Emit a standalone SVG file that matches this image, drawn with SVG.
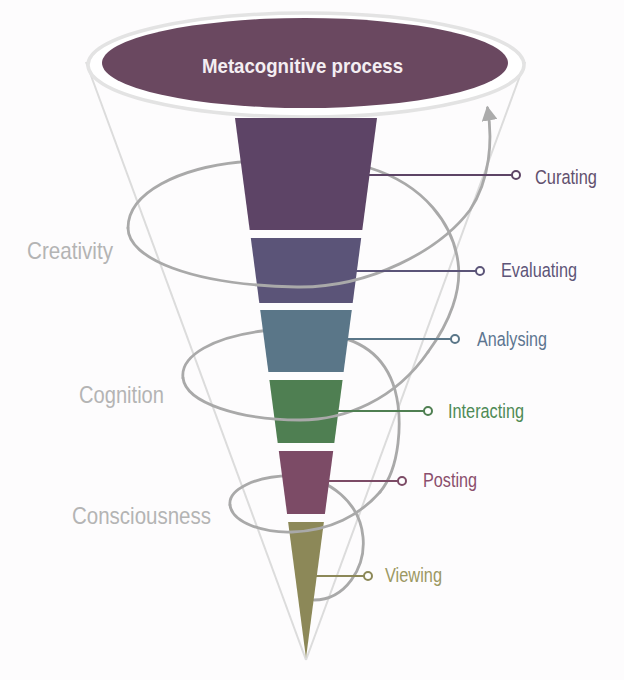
<svg xmlns="http://www.w3.org/2000/svg" width="624" height="680" viewBox="0 0 624 680">
  <defs>
    <marker id="arrow" markerUnits="userSpaceOnUse" markerWidth="16" markerHeight="16" viewBox="0 0 14 14" refX="11" refY="7" orient="auto">
      <path d="M0,0 L13,7 L0,14 z" fill="#ababab"/>
    </marker>
    <style>
      .cone { fill: none; stroke: #dcdcdc; stroke-width: 2; }
      .spiral { fill: none; stroke: #a9a9a9; stroke-width: 2.8; stroke-linecap: round; }
      .lead { fill: none; stroke-width: 2; }
      .dot { fill: #ffffff; stroke-width: 2; }
      .lbl { font-family: "Liberation Sans", Arial, sans-serif; font-size: 20.5px; }
      .side { font-family: "Liberation Sans", Arial, sans-serif; font-size: 24px; fill: #b4b4b4; }
    </style>
  </defs>
  <rect x="0" y="0" width="624" height="680" fill="#fdfcfd"/>

  <!-- cone -->
  <g id="cone">
    <line class="cone" x1="86" y1="62" x2="306" y2="660"/>
    <line class="cone" x1="525" y1="62" x2="306" y2="660"/>
  </g>

  <g id="metacognitive-process">
    <ellipse cx="306" cy="65" rx="218" ry="52" fill="#ffffff" stroke="#e3e3e3" stroke-width="3.5"/>
    <ellipse cx="305" cy="63" rx="203" ry="45" fill="#6a4860"/>
    <text x="302.5" y="72.5" text-anchor="middle" font-family="'Liberation Sans', Arial, sans-serif" font-size="21" font-weight="bold" fill="#f4eef2" textLength="201" lengthAdjust="spacingAndGlyphs">Metacognitive process</text>
  </g>

  <!-- spiral back parts -->
  <g id="spiral-back">
    <path class="spiral" d="M 314,600 C 345,600 366,568 363,537 C 360,503 330,478 295,476 C 255,475 228,490 230,505"/>
    <path class="spiral" d="M 380,492 C 400,468 403,420 395,390 C 385,355 360,338 320,333 C 300,330 280,329 262,331 C 215,337 180,355 183,378"/>
    <path class="spiral" d="M 428,352 C 450,322 462,290 458,262 C 453,225 425,185 370,168 C 330,158 280,156 240,162 C 180,168 128,192 128,228"/>
  </g>

  <g id="curating">
    <polygon points="235,118 377,118 362.3,230 249.7,230" fill="#5d4466"/>
    <text class="lbl" x="535" y="184" fill="#62506e" textLength="62" lengthAdjust="spacingAndGlyphs">Curating</text>
  </g>
  <g id="evaluating">
    <polygon points="250.8,238 361.2,238 352.7,303 259.3,303" fill="#5b5478"/>
    <text class="lbl" x="501" y="277" fill="#5d5578" textLength="76" lengthAdjust="spacingAndGlyphs">Evaluating</text>
  </g>
  <g id="analysing">
    <polygon points="260.2,310 351.8,310 343.6,372 268.4,372" fill="#5a7688"/>
    <text class="lbl" x="477" y="345.5" fill="#5c7590" textLength="70" lengthAdjust="spacingAndGlyphs">Analysing</text>
  </g>
  <g id="interacting">
    <polygon points="269.4,380 342.6,380 334.3,443 277.7,443" fill="#4f7f52"/>
    <text class="lbl" x="448" y="418" fill="#4e8a55" textLength="76" lengthAdjust="spacingAndGlyphs">Interacting</text>
  </g>
  <g id="posting">
    <polygon points="278.8,451 333.2,451 324.9,514 287.1,514" fill="#7c4b66"/>
    <text class="lbl" x="423" y="486.5" fill="#8a4e6c" textLength="54" lengthAdjust="spacingAndGlyphs">Posting</text>
  </g>
  <g id="viewing">
    <polygon points="288.1,522 323.9,522 306,658" fill="#8c8858"/>
    <text class="lbl" x="385" y="582" fill="#9c9862" textLength="57" lengthAdjust="spacingAndGlyphs">Viewing</text>
  </g>

  <!-- spiral front parts -->
  <g id="spiral-front">
    <path class="spiral" d="M 230,505 C 232,522 262,533 292,532 C 330,531 360,515 380,492"/>
    <path class="spiral" d="M 183,378 C 186,403 240,420 300,420 C 345,420 395,400 428,352"/>
    <path class="spiral" d="M 128,228 C 128,258 190,285 297,287 C 370,288 440,250 470,210 C 490,180 493,140 487.5,108" marker-end="url(#arrow)"/>
  </g>

  <!-- connectors (leader lines) -->
  <g id="connectors">
    <line class="lead" x1="369" y1="175" x2="512" y2="175" stroke="#5d4466"/>
    <circle class="dot" cx="516" cy="175" r="4" stroke="#5d4466"/>
    <line class="lead" x1="356" y1="271" x2="476" y2="271" stroke="#5b5478"/>
    <circle class="dot" cx="480" cy="271" r="4" stroke="#5b5478"/>
    <line class="lead" x1="347" y1="339" x2="451" y2="339" stroke="#5a7688"/>
    <circle class="dot" cx="455" cy="339" r="4" stroke="#5a7688"/>
    <line class="lead" x1="338" y1="411" x2="424" y2="411" stroke="#4f7f52"/>
    <circle class="dot" cx="428" cy="411" r="4" stroke="#4f7f52"/>
    <line class="lead" x1="328" y1="481" x2="398" y2="481" stroke="#7c4b66"/>
    <circle class="dot" cx="402" cy="481" r="4" stroke="#7c4b66"/>
    <line class="lead" x1="316" y1="576" x2="364" y2="576" stroke="#8c8858"/>
    <circle class="dot" cx="368" cy="576" r="4" stroke="#8c8858"/>
  </g>

  <g id="levels">
    <text class="side" x="27" y="259" textLength="86" lengthAdjust="spacingAndGlyphs">Creativity</text>
    <text class="side" x="79" y="403" textLength="85" lengthAdjust="spacingAndGlyphs">Cognition</text>
    <text class="side" x="72" y="524" textLength="139" lengthAdjust="spacingAndGlyphs">Consciousness</text>
  </g>
</svg>
